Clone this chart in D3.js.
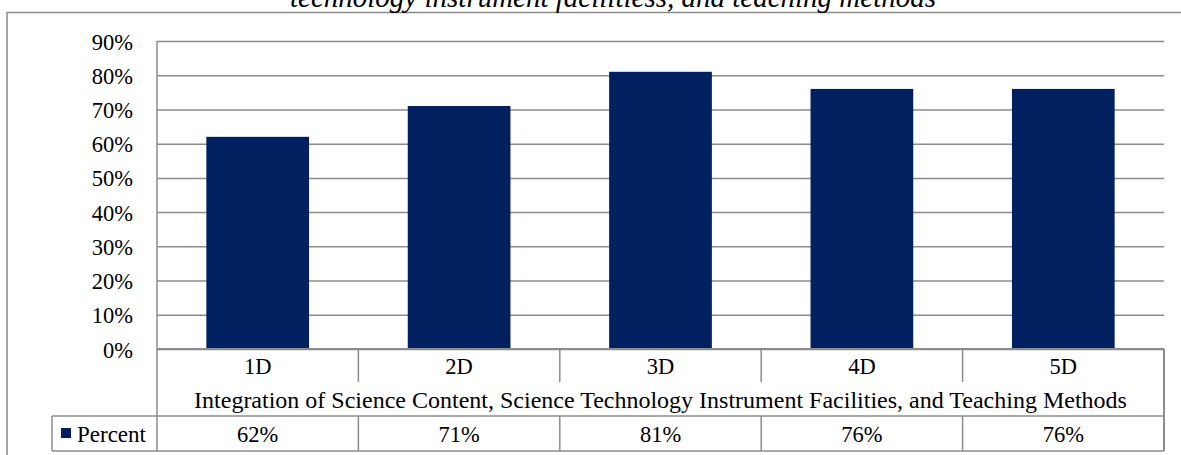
<!DOCTYPE html>
<html><head><meta charset="utf-8">
<script src="https://cdn.jsdelivr.net/npm/d3@7"></script>
<style>
html,body{margin:0;padding:0;background:#fff;}
svg{display:block;}
svg text{font-family:"Liberation Serif","DejaVu Serif",serif !important;fill:#000;}
</style></head>
<body>
<svg id="chart" width="1181" height="455"></svg>
<script>
const categories = ["1D","2D","3D","4D","5D"];
const percentValues = [0.62, 0.71, 0.81, 0.76, 0.76];
const percentLabels = ["62%","71%","81%","76%","76%"];
const yTicks = [0,0.1,0.2,0.3,0.4,0.5,0.6,0.7,0.8,0.9];
const seriesName = "Percent";
const axisTitle = "Integration of Science Content, Science Technology Instrument Facilities, and Teaching Methods";
const chartTitle = "technology instrument facilitiess, and teaching methods";

const svg = d3.select("#chart");
const grey = "#8c8c8c";
const barColor = "#002060";
const FS = 22.5;
const L = 157, R = 1164, T = 41, B = 349;
const row1 = 382, row2 = 416, row3 = 451, legendLeft = 52;

// outer border
svg.append("rect").attr("x",7).attr("y",12.5).attr("width",1190).attr("height",460)
  .attr("fill","none").attr("stroke",grey).attr("stroke-width",1.5);

// title (cropped at top as in the reference)
svg.append("text").attr("x",613).attr("y",6.5).attr("text-anchor","middle")
  .attr("font-size",29).attr("font-style","italic").text(chartTitle);

const y = d3.scaleLinear().domain([0,0.9]).range([B,T]);
const x = d3.scaleBand().domain(categories).range([L,R]).paddingInner(0.49).paddingOuter(0.245);
const seg = d3.scaleBand().domain(categories).range([L,R]).padding(0);

// gridlines + y labels
const yAxis = d3.axisLeft(y).tickValues(yTicks).tickFormat(d3.format(".0%"))
  .tickSize(-(R-L)).tickPadding(24);
const gy = svg.append("g").attr("transform",`translate(${L},0)`).call(yAxis);
gy.select(".domain").remove();
gy.attr("font-family",null).attr("font-size",null);
gy.selectAll(".tick line").attr("stroke",grey).attr("stroke-width",1.5);
gy.selectAll(".tick text").attr("font-size",FS).attr("fill","#000").attr("dy","0.36em");

// bars
svg.append("g").selectAll("rect").data(categories).join("rect")
  .attr("x",d=>x(d)).attr("width",x.bandwidth())
  .attr("y",(d,i)=>y(percentValues[i])).attr("height",(d,i)=>B-y(percentValues[i]))
  .attr("fill",barColor);

// table lines
const lines = svg.append("g").attr("stroke",grey).attr("stroke-width",1.5);
lines.append("line").attr("x1",L).attr("x2",R).attr("y1",B).attr("y2",B).attr("stroke-width",2);
lines.append("line").attr("x1",L).attr("x2",L).attr("y1",T).attr("y2",row3);
lines.append("line").attr("x1",R).attr("x2",R).attr("y1",B).attr("y2",row3).attr("stroke-width",2);
lines.append("line").attr("x1",legendLeft).attr("x2",R).attr("y1",row2).attr("y2",row2);
lines.append("line").attr("x1",legendLeft).attr("x2",R).attr("y1",row3).attr("y2",row3);
lines.append("line").attr("x1",legendLeft).attr("x2",legendLeft).attr("y1",row2).attr("y2",row3);
categories.slice(1).forEach(c=>{
  lines.append("line").attr("x1",seg(c)).attr("x2",seg(c)).attr("y1",B).attr("y2",row1);
  lines.append("line").attr("x1",seg(c)).attr("x2",seg(c)).attr("y1",row2).attr("y2",row3);
});

// category labels
svg.append("g").selectAll("text").data(categories).join("text")
  .attr("x",d=>seg(d)+seg.bandwidth()/2).attr("y",(B+row1)/2).attr("dy","0.36em")
  .attr("text-anchor","middle").attr("font-size",FS).text(d=>d);

// axis title
svg.append("text").attr("x",(L+R)/2).attr("y",(row1+row2)/2).attr("dy","0.36em")
  .attr("text-anchor","middle").attr("font-size",24).text(axisTitle);

// data row
svg.append("g").selectAll("text").data(categories).join("text")
  .attr("x",d=>seg(d)+seg.bandwidth()/2).attr("y",(row2+row3)/2).attr("dy","0.36em")
  .attr("text-anchor","middle").attr("font-size",FS).text((d,i)=>percentLabels[i]);

// legend cell
svg.append("rect").attr("x",61).attr("y",428).attr("width",10).attr("height",10).attr("fill",barColor);
svg.append("text").attr("x",77).attr("y",(row2+row3)/2).attr("dy","0.36em")
  .attr("font-size",23).text(seriesName);
</script>
</body></html>
